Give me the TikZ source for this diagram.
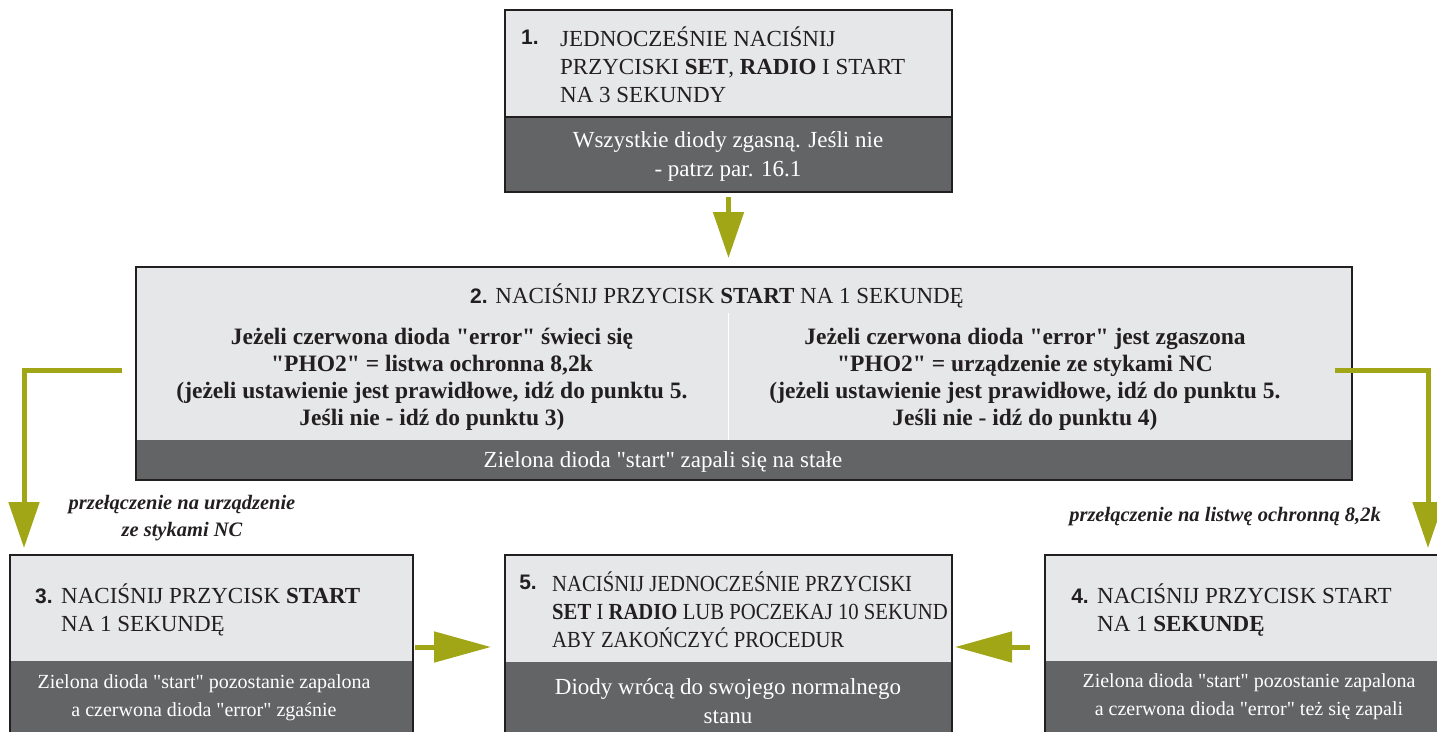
\documentclass[tikz,border=0pt]{standalone}
\usepackage{fontspec}
\setmainfont{Liberation Serif}
\newfontfamily\numfont{Liberation Sans}
\newfontfamily\condfont[FakeStretch=0.9]{Liberation Serif}
\usetikzlibrary{arrows.meta}
\definecolor{lightfill}{HTML}{E6E7E8}
\definecolor{darkfill}{HTML}{636466}
\definecolor{edge}{HTML}{231F20}
\definecolor{olive}{HTML}{A0A616}
\newcommand{\stq}{\XeTeXglyph\XeTeXcharglyph"0022\relax}
\begin{document}
\begin{tikzpicture}[x=1pt,y=-1pt,
  lightpart/.style={fill=lightfill, draw=none, inner sep=0pt, outer sep=0pt, anchor=north west},
  darkpart/.style={fill=darkfill, draw=none, inner sep=0pt, outer sep=0pt, anchor=north west},
  frame/.style={draw=edge, line width=2.2pt},
  num/.style={font=\numfont\bfseries\fontsize{21}{28}\selectfont, text=edge, inner sep=0pt},
  caps/.style={font=\fontsize{23}{28}\selectfont, text=edge, align=left, inner sep=0pt},
  condcaps/.style={font=\condfont\fontsize{23}{28}\selectfont, text=edge, align=left, inner sep=0pt},
  note/.style={font=\fontsize{23}{29}\selectfont, text=white, align=center, inner sep=0pt},
  smallnote/.style={font=\fontsize{20}{28}\selectfont, text=white, align=center, inner sep=0pt},
  cond/.style={font=\bfseries\fontsize{23.5}{27}\selectfont, text=edge, align=center, inner sep=0pt},
  sidenote/.style={font=\bfseries\itshape\fontsize{20.5}{27}\selectfont, text=edge, align=center, inner sep=0pt},
  vconn/.style={draw=olive, line width=5pt, miter limit=10, -{Triangle[length=46pt,width=30pt]}},
  hconn/.style={draw=olive, line width=5pt, -{Triangle[length=57pt,width=30pt]}}
]
\useasboundingbox (0,0) rectangle (1437,731);
\clip (0,0) rectangle (1437,731);

% Box 1
\node[lightpart, minimum width=447pt, minimum height=107pt] (b1) at (505,10) {};
\node[darkpart, minimum width=447pt, minimum height=75pt] (b1d) at (505,117) {};
\draw[frame] (b1.north west) rectangle (b1d.south east);
\draw[edge, line width=1.2pt] (b1.south west) -- (b1.south east);
\node[num] (n1) at (530,37) {1.};
\node[caps, anchor=west] (t1) at (560,65) {JEDNOCZEŚNIE NACIŚNIJ\\PRZYCISKI \textbf{SET}, \textbf{RADIO} I START\\NA 3 SEKUNDY};
\node[note] (d1) at (728,156) {Wszystkie diody zgasną. Jeśli nie\\- patrz par. 16.1};

% Box 2
\node[lightpart, minimum width=1216pt, minimum height=173pt] (b2) at (136,267) {};
\node[darkpart, minimum width=1216pt, minimum height=40pt] (b2d) at (136,440) {};
\draw[frame] (b2.north west) rectangle (b2d.south east);
\draw[white, line width=1pt] (728,313) -- (728,440);
\node[caps] (t2) at (717,296) {{\numfont\bfseries\fontsize{21}{28}\selectfont 2.} NACIŚNIJ PRZYCISK \textbf{START} NA 1 SEKUNDĘ};
\node[cond] (c2l) at (432,379) {Jeżeli czerwona dioda \stq error\stq\ świeci się\\\stq PHO2\stq\ = listwa ochronna 8,2k\\(jeżeli ustawienie jest prawidłowe, idź do punktu 5.\\Jeśli nie - idź do punktu 3)};
\node[cond] (c2r) at (1025,379) {Jeżeli czerwona dioda \stq error\stq\ jest zgaszona\\\stq PHO2\stq\ = urządzenie ze stykami NC\\(jeżeli ustawienie jest prawidłowe, idź do punktu 5.\\Jeśli nie - idź do punktu 4)};
\node[note] (d2) at (663,462) {Zielona dioda \stq start\stq\ zapali się na stałe};

% Box 3
\node[lightpart, minimum width=403pt, minimum height=106pt] (b3) at (10,555) {};
\node[darkpart, minimum width=403pt, minimum height=90pt] (b3d) at (10,661) {};
\draw[frame] (b3.north west) rectangle (b3d.south east);
\node[num] (n3) at (44,596) {3.};
\node[caps, anchor=west] (t3) at (61,610) {NACIŚNIJ PRZYCISK \textbf{START}\\NA 1 SEKUNDĘ};
\node[smallnote] (d3) at (204,698) {Zielona dioda \stq start\stq\ pozostanie zapalona\\a czerwona dioda \stq error\stq\ zgaśnie};

% Box 5
\node[lightpart, minimum width=447pt, minimum height=107pt] (b5) at (505,555) {};
\node[darkpart, minimum width=447pt, minimum height=90pt] (b5d) at (505,662) {};
\draw[frame] (b5.north west) rectangle (b5d.south east);
\node[num] (n5) at (528,582) {5.};
\node[condcaps, anchor=west] (t5) at (552,610) {NACIŚNIJ JEDNOCZEŚNIE PRZYCISKI\\\textbf{SET} I \textbf{RADIO} LUB POCZEKAJ 10 SEKUND\\ABY ZAKOŃCZYĆ PROCEDUR};
\node[note] (d5) at (728,701) {Diody wrócą do swojego normalnego\\stanu};

% Box 4
\node[lightpart, minimum width=400pt, minimum height=106pt] (b4) at (1045,555) {};
\node[darkpart, minimum width=400pt, minimum height=90pt] (b4d) at (1045,661) {};
\draw[frame] (b4.north west) rectangle (b4d.south east);
\node[num] (n4) at (1080,596) {4.};
\node[caps, anchor=west] (t4) at (1097,610) {NACIŚNIJ PRZYCISK START\\NA 1 \textbf{SEKUNDĘ}};
\node[smallnote] (d4) at (1249,697) {Zielona dioda \stq start\stq\ pozostanie zapalona\\a czerwona dioda \stq error\stq\ też się zapali};

% Side notes
\node[sidenote] (s1) at (182,518) {przełączenie na urządzenie\\ze stykami NC};
\node[sidenote, anchor=east] (s2) at (1381,517) {przełączenie na listwę ochronną 8,2k};

% Connectors
\coordinate (ls) at (122,370);
\coordinate (le) at (24,548);
\coordinate (rs) at (1335,370);
\coordinate (re) at (1428,548);
\coordinate (mid) at (0,647);
\draw[vconn, shorten <=5pt, shorten >=9pt] (b1d.south) -- (b1d.south |- b2.north);
\draw[vconn] (ls) -| (le);
\draw[vconn] (rs) -| (re);
\draw[hconn, shorten <=2pt, shorten >=14pt] (b3.east |- mid) -- (b5.west |- mid);
\draw[hconn, shorten <=15pt, shorten >=3pt] (b4.west |- mid) -- (b5.east |- mid);
\end{tikzpicture}
\end{document}
